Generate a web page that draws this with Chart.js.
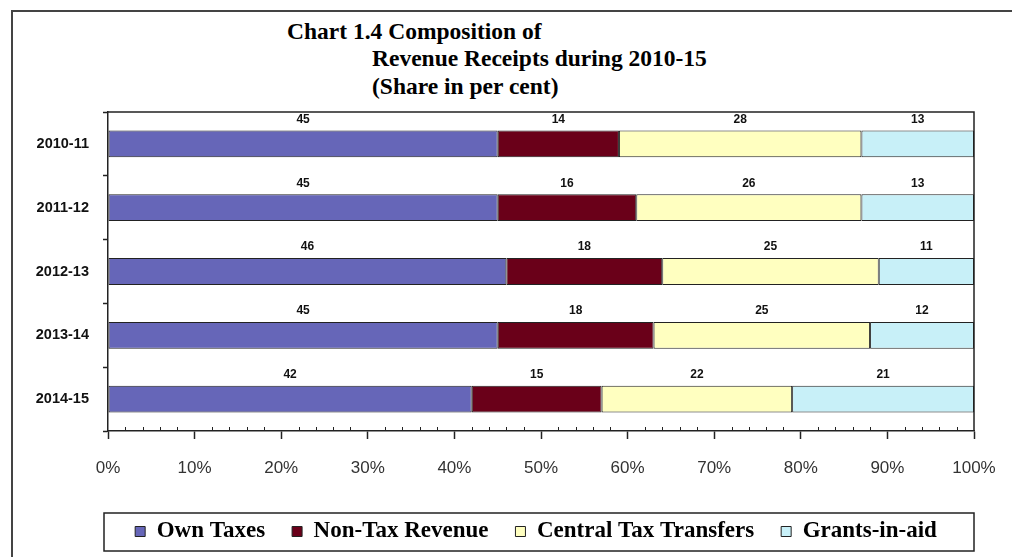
<!DOCTYPE html>
<html>
<head>
<meta charset="utf-8">
<script src="https://cdn.jsdelivr.net/npm/chart.js@4.4.1/dist/chart.umd.min.js"></script>
<style>
  html, body { margin: 0; padding: 0; background: #fff; }
  #wrap { position: relative; width: 1012px; height: 557px; overflow: hidden; }
  #frame { position: absolute; left: 11px; top: 10px; width: 1200px; height: 800px; border: 2px solid #444; box-sizing: border-box; }
  .title { position: absolute; font-family: "Liberation Serif", "Times New Roman", serif; font-weight: bold; font-size: 23.5px; line-height: 28px; color: #000; white-space: pre; }
  #chartRev { position: absolute; left: 0; top: 0; }
</style>
</head>
<body>
<div id="wrap">
  <div id="frame"></div>
  <div class="title" style="left:287px;top:17px">Chart 1.4 Composition of</div>
  <div class="title" style="left:372px;top:44px">Revenue Receipts during 2010-15</div>
  <div class="title" style="left:372px;top:72px">(Share in per cent)</div>
  <canvas id="chartRev" width="1012" height="557"></canvas>
</div>
<script>
// datos (porcentajes)
const years = ["2010-11", "2011-12", "2012-13", "2013-14", "2014-15"];
const ownTaxes = [45, 45, 46, 45, 42];
const nonTax = [14, 16, 18, 18, 15];
const centralTransfers = [28, 26, 25, 25, 22];
const grantsInAid = [13, 13, 11, 12, 21];
const seriesNames = ["Own Taxes", "Non-Tax Revenue", "Central Tax Transfers", "Grants-in-aid"];
const xTicks = [0, 10, 20, 30, 40, 50, 60, 70, 80, 90, 100];

const el = (id) => document.getElementById(id);
const colors = ["#6666b8", "#6a0019", "#ffffc0", "#c8f0f8"];

// mover la leyenda para que quede centrada bajo el area del grafico
const legendShift = {
  id: "legendShift",
  afterLayout(chart) {
    chart.legend.left = chart.chartArea.left - 10;
  },
};

// marco superior y derecho del area + ticks menores del eje x
const framePlugin = {
  id: "framePlugin",
  afterDraw(chart) {
    const { ctx, chartArea: a } = chart;
    const xs = chart.scales.x;
    ctx.save();
    ctx.strokeStyle = "#222";
    ctx.lineWidth = 1.5;
    ctx.beginPath();
    ctx.moveTo(a.left, a.top);
    ctx.lineTo(a.right, a.top);
    ctx.lineTo(a.right, a.bottom);
    ctx.stroke();
    ctx.lineWidth = 1;
    for (let v = 2; v < 100; v += 2) {
      if (v % 10 === 0) continue;
      const x = Math.round(xs.getPixelForValue(v)) + 0.5;
      ctx.beginPath();
      ctx.moveTo(x, a.bottom);
      ctx.lineTo(x, a.bottom - 4);
      ctx.stroke();
    }
    // caja de la leyenda
    const lg = chart.legend;
    const hb = lg.legendHitBoxes[0];
    const cy = hb ? hb.top + hb.height / 2 : lg.top + 20;
    ctx.lineWidth = 1.5;
    ctx.strokeRect(a.left - 4, Math.round(cy) - 19, a.right - a.left + 4, 38);
    ctx.restore();
  },
};

// etiquetas de valores encima de cada segmento
const labelsPlugin = {
  id: "labelsPlugin",
  afterDatasetsDraw(chart) {
    const { ctx } = chart;
    ctx.save();
    ctx.font = "bold 12px 'Liberation Sans', Arial, sans-serif";
    ctx.fillStyle = "#111";
    ctx.textAlign = "center";
    ctx.textBaseline = "middle";
    chart.data.datasets.forEach((ds, i) => {
      const meta = chart.getDatasetMeta(i);
      meta.data.forEach((bar, j) => {
        const cx = (bar.x + bar.base) / 2;
        const top = bar.y - bar.height / 2;
        ctx.fillText(String(ds.data[j]), cx, top - 11);
      });
    });
    ctx.restore();
  },
};

function renderChart() {
  const datasets = [ownTaxes, nonTax, centralTransfers, grantsInAid].map((d, i) => ({
    label: seriesNames[i],
    data: d,
    backgroundColor: colors[i],
    borderColor: "#222",
    borderWidth: 1,
    borderSkipped: false,
    barPercentage: 0.42,
    categoryPercentage: 1,
  }));

  new Chart(el("chartRev").getContext("2d"), {
    type: "bar",
    data: { labels: years, datasets },
    options: {
      indexAxis: "y",
      responsive: false,
      animation: false,
      layout: { padding: { top: 112, left: 0, right: 38, bottom: 4 } },
      scales: {
        x: {
          stacked: true,
          min: 0,
          max: 100,
          afterBuildTicks: (s) => { s.ticks = xTicks.map((v) => ({ value: v })); },
          afterFit: (s) => {
            s.height = 62;
            s.paddingLeft = 0;
            s.paddingRight = 0;
          },
          ticks: {
            color: "#333",
            padding: 19,
            font: { family: "'Liberation Sans', Arial, sans-serif", size: 17 },
            callback: (v) => v + "%",
          },
          grid: { drawOnChartArea: false, tickLength: 8, color: "#222", tickWidth: 1.5 },
          border: { color: "#222", width: 1.5 },
        },
        y: {
          stacked: true,
          afterFit: (s) => { s.width = 108; },
          ticks: {
            color: "#111",
            padding: 14,
            font: { family: "'Liberation Sans', Arial, sans-serif", size: 14.5, weight: "bold" },
          },
          grid: { drawOnChartArea: false, tickLength: 5, color: "#222", tickWidth: 1.5 },
          border: { color: "#222", width: 1.5 },
        },
      },
      plugins: {
        legend: {
          position: "bottom",
          labels: {
            color: "#000",
            boxWidth: 10,
            boxHeight: 10,
            padding: 27,
            font: { family: "'Liberation Serif', 'Times New Roman', serif", size: 23, weight: "bold" },
          },
        },
        tooltip: { enabled: false },
      },
    },
    plugins: [legendShift, framePlugin, labelsPlugin],
  });
}

document.addEventListener("DOMContentLoaded", () => {
  renderChart();
});
</script>
</body>
</html>
